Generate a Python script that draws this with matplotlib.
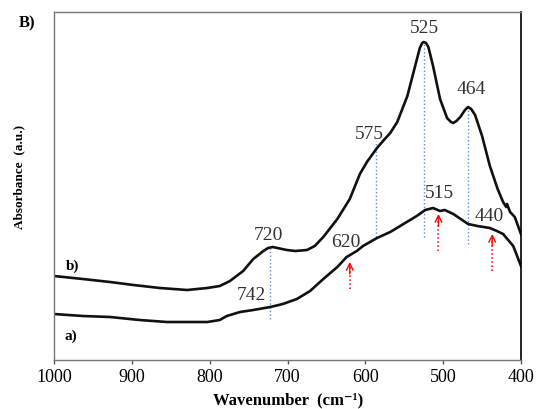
import matplotlib.pyplot as plt

# spectra (wavenumber in cm-1, absorbance in a.u.)
wn_b = [1000, 963, 928, 898, 864, 829, 803, 787, 774, 757, 744, 731, 725, 719,
        713, 701, 690, 675, 665, 654, 643, 636, 620, 607, 598, 585, 575, 568,
        559, 546, 536, 530, 527, 525, 522, 519, 513, 504, 495, 490, 487, 483,
        478, 472, 468, 464, 459, 450, 440, 430, 423, 419, 418, 414, 408, 401,
        400]
abs_b = [0.84, 0.81, 0.78, 0.75, 0.72, 0.70, 0.72, 0.74, 0.79, 0.89, 1.01, 1.09,
         1.12, 1.13, 1.12, 1.10, 1.09, 1.10, 1.14, 1.23, 1.34, 1.41, 1.61, 1.86,
         1.98, 2.12, 2.21, 2.27, 2.38, 2.64, 2.94, 3.12, 3.17, 3.18, 3.17, 3.13,
         2.94, 2.61, 2.42, 2.38, 2.37, 2.39, 2.43, 2.50, 2.53, 2.51, 2.45, 2.24,
         1.94, 1.71, 1.58, 1.53, 1.56, 1.48, 1.43, 1.28, 1.26]

wn_a = [1000, 963, 928, 890, 855, 821, 803, 787, 778, 761, 744, 722, 706, 688,
        671, 654, 636, 624, 611, 603, 585, 568, 551, 534, 523, 513, 504, 498,
        487, 468, 456, 440, 431, 423, 410, 400]
abs_a = [0.46, 0.44, 0.43, 0.40, 0.38, 0.38, 0.38, 0.40, 0.44, 0.48, 0.50, 0.53,
         0.56, 0.61, 0.69, 0.81, 0.93, 1.03, 1.09, 1.14, 1.22, 1.28, 1.36, 1.44,
         1.50, 1.52, 1.49, 1.50, 1.46, 1.36, 1.34, 1.32, 1.29, 1.26, 1.14, 0.94]

# blue dotted guide lines: position, bottom, top
guide_x = [722, 586, 525, 468]
guide_lo = [0.41, 1.23, 1.23, 1.16]
guide_hi = [1.13, 2.19, 3.18, 2.53]

# red arrows: position, tail, head
arrow_x = [620, 506, 437]
arrow_lo = [0.71, 1.09, 0.89]
arrow_hi = [0.98, 1.46, 1.26]

# peak labels
peak_text = ['525', '464', '575', '515', '440', '620', '720', '742']
peak_x = [524, 464, 595, 505, 441, 625, 725, 746]
peak_y = [3.32, 2.71, 2.26, 1.68, 1.45, 1.19, 1.26, 0.66]

serif = ['Liberation Serif', 'DejaVu Serif']

fig = plt.figure(figsize=(5.37, 4.10), dpi=100)
ax = fig.add_axes([0.1006, 0.1195, 0.8696, 0.8488])

for x, lo, hi in zip(guide_x, guide_lo, guide_hi):
    ax.plot([x, x], [lo, hi], color='#5b8fd6', ls=':', lw=1.0)

for x, lo, hi in zip(arrow_x, arrow_lo, arrow_hi):
    ax.plot([x, x], [lo, hi - 0.02], color='red', ls=':', lw=1.1)
    ax.annotate('', xy=(x, hi), xytext=(x, hi - 0.12),
                arrowprops=dict(arrowstyle='->', color='red', lw=1.0,
                                mutation_scale=12, shrinkA=0, shrinkB=0))

ax.plot(wn_b, abs_b, color='#111111', lw=1.9, solid_joinstyle='round')
ax.plot(wn_a, abs_a, color='#111111', lw=1.9, solid_joinstyle='round')

for t, x, y in zip(peak_text, peak_x, peak_y):
    ax.text(x, y, t, ha='center', va='center', fontsize=14, family=serif,
            color='#333333')

ax.text(976, 0.95, 'b)', ha='center', va='center', fontsize=11,
        family=serif, fontweight='bold')
ax.text(978, 0.25, 'a)', ha='center', va='center', fontsize=11,
        family=serif, fontweight='bold')
fig.text(27 / 537, 1 - 23 / 410, 'B)', ha='center', va='center', fontsize=12,
         family=serif, fontweight='bold')

ax.set_xlim(1000, 400)
ax.set_ylim(0, 3.48)
ax.set_xticks([1000, 900, 800, 700, 600, 500, 400])
ax.set_yticks([])
ax.tick_params(axis='x', direction='out', length=3, width=1, colors='#555555',
               labelsize=13, labelcolor='black', pad=3)
for lab in ax.get_xticklabels():
    lab.set_family(serif)

for side in ['left', 'top', 'bottom']:
    ax.spines[side].set_color('#777777')
    ax.spines[side].set_linewidth(1.0)
ax.spines['right'].set_color('black')
ax.spines['right'].set_linewidth(1.2)

fig.text(288 / 537, 1 - 400 / 410, 'Wavenumber  (cm\u207b\u00b9)',
         ha='center', va='center', fontsize=12, family=serif,
         fontweight='bold')
fig.text(19 / 537, 1 - 177 / 410, 'Absorbance  (a.u.)', ha='center',
         va='center', rotation=90, fontsize=9.5, family=serif,
         fontweight='bold')

plt.savefig('out.png', dpi=100)
